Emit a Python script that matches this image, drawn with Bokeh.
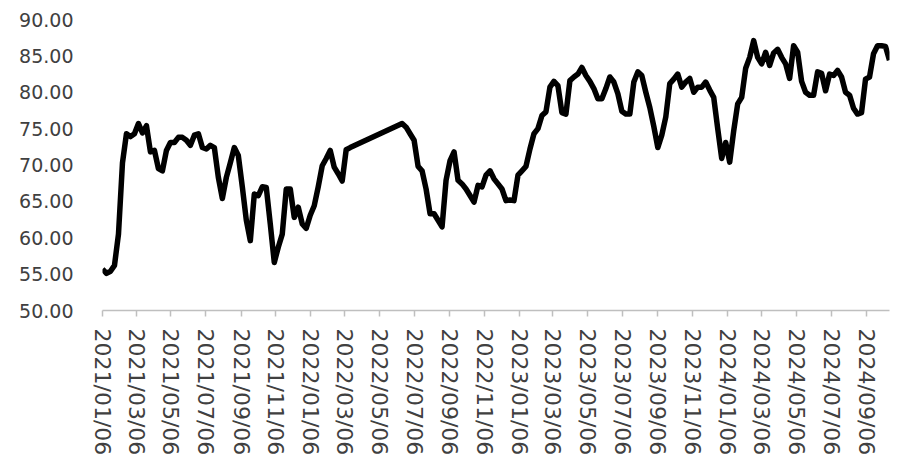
import math
import pandas as pd
from bokeh.plotting import figure
from bokeh.models import ColumnDataSource, Range1d, FixedTicker, DatetimeTickFormatter, NumeralTickFormatter
from bokeh.embed import file_html
from bokeh.resources import INLINE

# ---- data (weekly readings) ----
DATES_2021 = [
    "2021-01-06", "2021-01-13", "2021-01-20", "2021-01-27", "2021-02-03", "2021-02-10", "2021-02-17", "2021-02-24",
    "2021-03-03", "2021-03-10", "2021-03-17", "2021-03-24", "2021-03-31", "2021-04-07", "2021-04-14", "2021-04-21",
    "2021-04-28", "2021-05-05", "2021-05-12", "2021-05-19", "2021-05-26", "2021-06-02", "2021-06-09", "2021-06-16",
    "2021-06-23", "2021-06-30", "2021-07-07", "2021-07-14", "2021-07-21", "2021-07-28", "2021-08-04", "2021-08-11",
    "2021-08-18", "2021-08-25", "2021-09-01", "2021-09-08", "2021-09-15", "2021-09-22", "2021-09-29", "2021-10-06",
    "2021-10-13", "2021-10-20", "2021-10-27", "2021-11-03", "2021-11-10", "2021-11-17", "2021-11-24", "2021-12-01",
    "2021-12-08", "2021-12-15", "2021-12-22", "2021-12-29",
]
VALUES_2021 = [
    55.7, 55.1, 55.4, 56.2, 60.5, 70.3, 74.3, 73.9,
    74.3, 75.7, 74.4, 75.4, 71.8, 72.0, 69.5, 69.2,
    72.0, 73.1, 73.1, 73.8, 73.8, 73.4, 72.7, 74.1,
    74.3, 72.4, 72.2, 72.7, 72.4, 68.3, 65.4, 68.3,
    70.3, 72.4, 71.3, 67.0, 62.4, 59.6, 66.0, 65.8,
    67.0, 66.9, 61.9, 56.6, 58.7, 60.5, 66.7, 66.7,
    62.8, 64.2, 61.9, 61.3,
]

DATES_2022 = [
    "2022-01-05", "2022-01-12", "2022-01-19", "2022-01-26", "2022-02-02", "2022-02-09", "2022-02-16", "2022-02-23",
    "2022-03-02", "2022-03-09", "2022-03-16",
    "2022-06-15", "2022-06-22", "2022-06-29", "2022-07-06", "2022-07-13", "2022-07-20", "2022-07-27",
    "2022-08-03", "2022-08-10", "2022-08-17", "2022-08-24", "2022-08-31", "2022-09-07", "2022-09-14", "2022-09-21",
    "2022-09-28", "2022-10-05", "2022-10-12", "2022-10-19", "2022-10-26", "2022-11-02", "2022-11-09", "2022-11-16",
    "2022-11-23", "2022-11-30", "2022-12-07", "2022-12-14", "2022-12-21", "2022-12-28",
]
VALUES_2022 = [
    63.1, 64.4, 67.0, 69.9, 70.9, 72.0, 69.7, 68.8,
    67.8, 72.1, 72.4,
    75.7, 75.2, 74.3, 73.4, 69.8, 69.2, 66.7,
    63.3, 63.3, 62.4, 61.5, 67.9, 70.6, 71.8, 67.9,
    67.4, 66.7, 65.8, 64.9, 67.2, 67.0, 68.6, 69.2,
    68.1, 67.4, 66.7, 65.1, 65.2, 65.1,
]

DATES_2023 = [
    "2023-01-04", "2023-01-11", "2023-01-18", "2023-01-25", "2023-02-01", "2023-02-08", "2023-02-15", "2023-02-22",
    "2023-03-01", "2023-03-08", "2023-03-15", "2023-03-22", "2023-03-29", "2023-04-05", "2023-04-12", "2023-04-19",
    "2023-04-26", "2023-05-03", "2023-05-10", "2023-05-17", "2023-05-24", "2023-05-31", "2023-06-07", "2023-06-14",
    "2023-06-21", "2023-06-28", "2023-07-05", "2023-07-12", "2023-07-19", "2023-07-26", "2023-08-02", "2023-08-09",
    "2023-08-16", "2023-08-23", "2023-08-30", "2023-09-06", "2023-09-13", "2023-09-20", "2023-09-27", "2023-10-04",
    "2023-10-11", "2023-10-18", "2023-10-25", "2023-11-01", "2023-11-08", "2023-11-15", "2023-11-22", "2023-11-29",
    "2023-12-06", "2023-12-13", "2023-12-20", "2023-12-27",
]
VALUES_2023 = [
    68.6, 69.2, 69.8, 72.2, 74.3, 75.0, 76.8, 77.3,
    80.7, 81.5, 80.9, 77.2, 77.0, 81.6, 82.1, 82.5,
    83.4, 82.3, 81.5, 80.5, 79.1, 79.1, 80.5, 82.1,
    81.4, 79.8, 77.4, 77.0, 77.0, 81.4, 82.8, 82.3,
    80.0, 77.9, 75.3, 72.4, 74.1, 76.6, 81.2, 81.8,
    82.5, 80.7, 81.4, 81.9, 80.0, 80.7, 80.7, 81.4,
    80.3, 79.3, 75.0, 70.9,
]

DATES_2024 = [
    "2024-01-03", "2024-01-10", "2024-01-17", "2024-01-24", "2024-01-31", "2024-02-07", "2024-02-14", "2024-02-21",
    "2024-02-28", "2024-03-06", "2024-03-13", "2024-03-20", "2024-03-27", "2024-04-03", "2024-04-10", "2024-04-17",
    "2024-04-24", "2024-05-01", "2024-05-08", "2024-05-15", "2024-05-22", "2024-05-29", "2024-06-05", "2024-06-12",
    "2024-06-19", "2024-06-26", "2024-07-03", "2024-07-10", "2024-07-17", "2024-07-24", "2024-07-31", "2024-08-07",
    "2024-08-14", "2024-08-21", "2024-08-28", "2024-09-04", "2024-09-11", "2024-09-18", "2024-09-25", "2024-10-02",
    "2024-10-09", "2024-10-16",
]
VALUES_2024 = [
    73.1, 70.4, 74.7, 78.4, 79.3, 83.3, 84.8, 87.1,
    84.8, 83.9, 85.5, 83.7, 85.4, 85.9, 84.8, 83.9,
    81.9, 86.4, 85.5, 81.5, 80.0, 79.6, 79.6, 82.8,
    82.6, 80.2, 82.5, 82.3, 83.0, 82.1, 80.0, 79.6,
    77.8, 77.0, 77.2, 81.8, 82.1, 85.3, 86.4, 86.4,
    86.3, 84.4,
]

TICK_LABELS = [
    "2021/01/06", "2021/03/06", "2021/05/06", "2021/07/06", "2021/09/06", "2021/11/06",
    "2022/01/06", "2022/03/06", "2022/05/06", "2022/07/06", "2022/09/06", "2022/11/06",
    "2023/01/06", "2023/03/06", "2023/05/06", "2023/07/06", "2023/09/06", "2023/11/06",
    "2024/01/06", "2024/03/06", "2024/05/06", "2024/07/06", "2024/09/06",
]
Y_TICKS = [50, 55, 60, 65, 70, 75, 80, 85, 90]
X_START = "2021-01-06"
X_END = "2024-10-16"
Y_MIN, Y_MAX = 50, 90

dates = pd.to_datetime(DATES_2021 + DATES_2022 + DATES_2023 + DATES_2024)
values = VALUES_2021 + VALUES_2022 + VALUES_2023 + VALUES_2024
source = ColumnDataSource(data=dict(date=dates, value=values))

tick_ms = [pd.Timestamp(pd.to_datetime(t, format="%Y/%m/%d")).timestamp() * 1000.0 for t in TICK_LABELS]

p = figure(
    width=892, height=461,
    x_axis_type="datetime",
    x_range=Range1d(pd.Timestamp(X_START), pd.Timestamp(X_END)),
    y_range=Range1d(Y_MIN, Y_MAX),
    output_backend="svg", toolbar_location=None,
    min_border_left=102, min_border_right=3, min_border_top=19, min_border_bottom=151,
)
p.outline_line_color = None
p.xgrid.visible = False
p.ygrid.visible = False
p.background_fill_color = "white"
p.border_fill_color = "white"

p.line(x="date", y="value", source=source, line_color="black", line_width=5.5, line_join="round")

FONT = "DejaVu Sans"
TXT = "#404040"

fmt = "%Y/%m/%d"
p.xaxis.ticker = FixedTicker(ticks=tick_ms)
p.xaxis.formatter = DatetimeTickFormatter(
    milliseconds=fmt, seconds=fmt, minsec=fmt, minutes=fmt, hourmin=fmt,
    hours=fmt, days=fmt, months=fmt, years=fmt,
)
p.xaxis.major_label_orientation = -math.pi / 2
p.xaxis.axis_line_color = "#bfbfbf"
p.xaxis.axis_line_width = 1.5
p.xaxis.major_tick_line_color = "#bfbfbf"
p.xaxis.major_tick_line_width = 1.5
p.xaxis.major_tick_out = 6
p.xaxis.major_tick_in = 0
p.xaxis.minor_tick_line_color = None
p.xaxis.major_label_standoff = 12
p.xaxis.major_label_text_font = FONT
p.xaxis.major_label_text_font_size = "22px"
p.xaxis.major_label_text_color = TXT

p.yaxis.ticker = FixedTicker(ticks=Y_TICKS)
p.yaxis.formatter = NumeralTickFormatter(format="0.00")
p.yaxis.axis_line_color = None
p.yaxis.major_tick_line_color = None
p.yaxis.minor_tick_line_color = None
p.yaxis.major_tick_out = 0
p.yaxis.major_tick_in = 0
p.yaxis.major_label_standoff = 29
p.yaxis.major_label_text_font = FONT
p.yaxis.major_label_text_font_size = "19px"
p.yaxis.major_label_text_color = TXT

open("out.html", "w").write(file_html(p, INLINE))
